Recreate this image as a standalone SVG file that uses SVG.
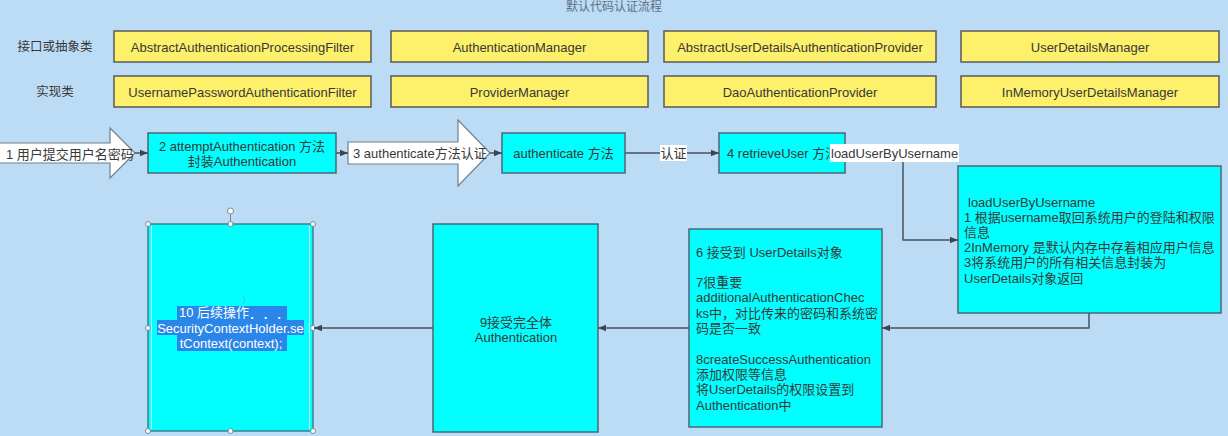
<svg xmlns="http://www.w3.org/2000/svg" width="1228" height="436" viewBox="0 0 1228 436">
<style>
text{font-family:"Liberation Sans","Noto Sans CJK SC",sans-serif;font-size:13px;fill:#383838;dominant-baseline:central}
.c{text-anchor:middle}
.y{fill:#fdf06b;stroke:#5a5a5a;stroke-width:1.5}
.cy{fill:#00ffff;stroke:#4d6676;stroke-width:1.5}
.ba{fill:#ffffff;stroke:#6f7f8c;stroke-width:1.2}
.ln{fill:none;stroke:#46535e;stroke-width:1.5;marker-end:url(#ah)}
.lbl{fill:#ffffff}
.hl{fill:#2a86e8}
.wt{fill:#ffffff}
.hd{fill:#ffffff;stroke:#7a8a96;stroke-width:1}
</style>
<defs>
<marker id="ah" viewBox="0 0 10 10" refX="10" refY="5" markerWidth="8" markerHeight="8" markerUnits="userSpaceOnUse" orient="auto">
<path d="M0,1 L10,5 L0,9 Z" fill="#3a4650"/>
</marker>
</defs>
<rect x="0" y="0" width="1228" height="436" fill="#bcdcf6"/>
<text class="c" x="614" y="7" style="font-size:12px;fill:#5d6f7e">默认代码认证流程</text>
<text class="c" x="55" y="47" style="font-size:12.5px">接口或抽象类</text>
<text class="c" x="55" y="92" style="font-size:12.5px">实现类</text>

<g id="n-abstract-filter"><rect class="y" x="114" y="31" width="257" height="31"/><text class="c" x="242.5" y="47">AbstractAuthenticationProcessingFilter</text></g>
<g id="n-auth-manager"><rect class="y" x="391" y="31" width="257" height="31"/><text class="c" x="519.5" y="47">AuthenticationManager</text></g>
<g id="n-abstract-provider"><rect class="y" x="664" y="31" width="272" height="31"/><text class="c" x="800" y="47">AbstractUserDetailsAuthenticationProvider</text></g>
<g id="n-uds-manager"><rect class="y" x="961" y="31" width="258" height="31"/><text class="c" x="1090" y="47">UserDetailsManager</text></g>

<g id="n-up-filter"><rect class="y" x="114" y="76" width="257" height="31"/><text class="c" x="242.5" y="92">UsernamePasswordAuthenticationFilter</text></g>
<g id="n-provider-manager"><rect class="y" x="391" y="76" width="257" height="31"/><text class="c" x="519.5" y="92">ProviderManager</text></g>
<g id="n-dao-provider"><rect class="y" x="664" y="76" width="272" height="31"/><text class="c" x="800" y="92">DaoAuthenticationProvider</text></g>
<g id="n-inmemory"><rect class="y" x="961" y="76" width="258" height="31"/><text class="c" x="1090" y="92">InMemoryUserDetailsManager</text></g>

<g id="n-step1"><polygon class="ba" points="-2,143 110,143 110,128 135,153 110,178 110,163 -2,163"/><text x="6" y="154">1 用户提交用户名密码</text></g>
<g id="n-step2"><rect class="cy" x="148" y="133" width="188" height="40"/><text class="c" x="242" y="146">2 attemptAuthentication 方法</text><text class="c" x="242" y="161">封装Authentication</text></g>
<g id="n-step3"><polygon class="ba" points="348,142 458,142 458,120 490,153 458,186 458,164 348,164"/><text x="353" y="153">3 authenticate方法认证</text></g>
<g id="n-authenticate"><rect class="cy" x="502" y="133" width="123" height="40"/><text class="c" x="563.5" y="153">authenticate 方法</text></g>
<g id="n-step4"><rect class="cy" x="719" y="133" width="126" height="40"/><text x="727" y="153">4 retrieveUser 方法</text></g>

<g id="n-step5"><rect class="cy" x="958" y="166" width="263" height="147"/>
<text x="968" y="202">loadUserByUsername</text>
<text x="964" y="217">1 根据username取回系统用户的登陆和权限</text>
<text x="964" y="232">信息</text>
<text x="964" y="247.5">2InMemory 是默认内存中存着相应用户信息</text>
<text x="964" y="262.5">3将系统用户的所有相关信息封装为</text>
<text x="964" y="278">UserDetails对象返回</text>
</g>

<g id="n-step6"><rect class="cy" x="689" y="229" width="193" height="198"/>
<text x="696" y="252">6 接受到 UserDetails对象</text>
<text x="696" y="282.5">7很重要</text>
<text x="696" y="297.8">additionalAuthenticationChec</text>
<text x="696" y="313">ks中，对比传来的密码和系统密</text>
<text x="696" y="328.3">码是否一致</text>
<text x="696" y="359">8createSuccessAuthentication</text>
<text x="696" y="374.3">添加权限等信息</text>
<text x="696" y="389.6">将UserDetails的权限设置到</text>
<text x="696" y="405">Authentication中</text>
</g>

<g id="n-step9"><rect class="cy" x="433" y="224" width="165" height="208"/><text class="c" x="516" y="322">9接受完全体</text><text class="c" x="516" y="337">Authentication</text></g>

<g id="n-step10"><rect class="cy" x="148" y="224" width="165" height="207" style="stroke:#3f7f8e"/>
<line x1="151.5" y1="226" x2="151.5" y2="429" stroke="#bff" stroke-width="1"/>
<line x1="309.5" y1="226" x2="309.5" y2="429" stroke="#bff" stroke-width="1"/>
<rect class="hl" x="177" y="306" width="110" height="14"/>
<rect class="hl" x="157" y="320" width="147" height="15"/>
<rect class="hl" x="177" y="335" width="110" height="16"/>
<text x="179" y="312.5" style="fill:#fff">10 后续操作<tspan style="letter-spacing:7px">．．．</tspan></text>
<text class="c wt" x="230.5" y="328">SecurityContextHolder.se</text>
<text class="c wt" x="231" y="343.5">tContext(context);</text>
<path d="M243,296 q3,3 1,7" fill="none" stroke="#7a9aa6" stroke-width="0.8"/>
<line x1="230.5" y1="214" x2="230.5" y2="224" stroke="#7a8a96" stroke-width="1"/>
<circle class="hd" cx="230.5" cy="211" r="3"/>
<circle class="hd" cx="148" cy="224" r="2.5"/><circle class="hd" cx="230.5" cy="224" r="2.5"/><circle class="hd" cx="313" cy="224" r="2.5"/>
<circle class="hd" cx="148" cy="328" r="2.5"/><circle class="hd" cx="313" cy="328" r="2.5"/>
<circle class="hd" cx="148" cy="431" r="2.5"/><circle class="hd" cx="230.5" cy="431" r="2.5"/><circle class="hd" cx="313" cy="431" r="2.5"/>
</g>

<g id="connectors">
<path class="ln" d="M135,153 H148"/>
<path class="ln" d="M336,153 H348"/>
<path class="ln" d="M490,153 H502"/>
<path class="ln" d="M625,153 H719"/>
<rect class="lbl" x="660" y="145" width="27" height="16"/>
<text x="660.5" y="153">认证</text>
<path class="ln" d="M845,153 H903 V240 H958"/>
<rect class="lbl" x="830" y="144" width="129" height="18"/>
<text x="831" y="153">loadUserByUsername</text>
<path class="ln" d="M1089,313 V328 H882"/>
<path class="ln" d="M689,328 H598"/>
<path class="ln" d="M433,328 H314"/>
</g>
</svg>
